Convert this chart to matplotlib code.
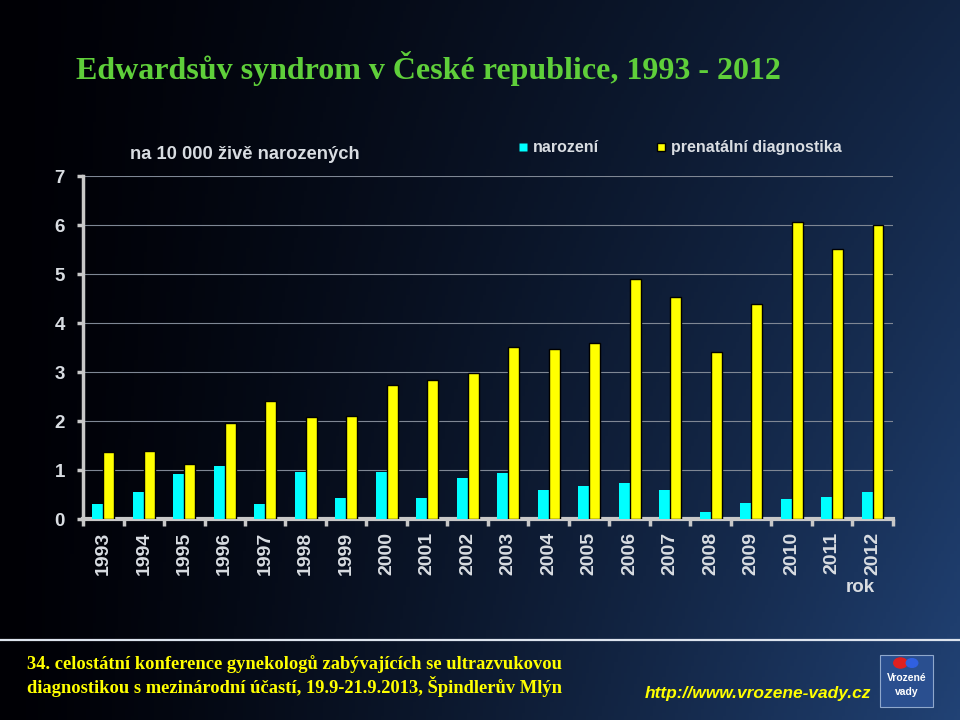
import numpy as np
import matplotlib.pyplot as plt
from matplotlib.lines import Line2D
from matplotlib.patches import Rectangle, Circle

plt.rcParams['font.family'] = ['Liberation Sans', 'DejaVu Sans']

years = ['1993', '1994', '1995', '1996', '1997', '1998', '1999', '2000', '2001', '2002',
         '2003', '2004', '2005', '2006', '2007', '2008', '2009', '2010', '2011', '2012']
narozeni = [0.31, 0.55, 0.92, 1.08, 0.31, 0.96, 0.43, 0.96, 0.43, 0.84,
            0.94, 0.59, 0.67, 0.73, 0.59, 0.14, 0.33, 0.41, 0.45, 0.55]
prenatalni = [1.37, 1.39, 1.12, 1.96, 2.41, 2.08, 2.10, 2.73, 2.84, 2.98,
              3.51, 3.47, 3.59, 4.90, 4.53, 3.41, 4.39, 6.06, 5.51, 6.00]
yticks = [0, 1, 2, 3, 4, 5, 6, 7]

fig = plt.figure(figsize=(9.6, 7.2), dpi=100)

# background gradient (black left -> dark blue right)
bg = fig.add_axes([0, 0, 1, 1])
h, w = 200, 300
xx = np.linspace(0, 1, w)[None, :]
yy = np.linspace(0, 1, h)[:, None]
t = np.clip(xx ** 1.3 * (0.55 + 0.45 * yy), 0, 1)
left = np.array([0.0, 0.0, 0.02])
right = np.array([0.13, 0.26, 0.46])
img = left[None, None, :] + t[:, :, None] * (right - left)[None, None, :]
bg.imshow(img, aspect='auto', extent=[0, 1, 1, 0])
bg.set_xlim(0, 1)
bg.set_ylim(1, 0)
bg.axis('off')

# footer line
bg.plot([0, 1], [640 / 720, 640 / 720], color='#dde4ee', lw=1.6)

# title
fig.text(0.079, 0.905, 'Edwardsův syndrom v České republice, 1993 - 2012',
         family='Liberation Serif', weight='bold', fontsize=23, color='#5fcf3a',
         va='center', ha='left')

ax = fig.add_axes([0.0865, 0.279, 0.8435, 0.4765])
ax.patch.set_alpha(0)
x = np.arange(len(years))
bw = 0.27
ax.bar(x - bw / 2, narozeni, width=bw, color='#00ffff', edgecolor='none', zorder=3)
ax.bar(x + bw / 2, prenatalni, width=bw, color='#ffff00', edgecolor='black', lw=1.0, zorder=3)

ax.set_xlim(-0.5, len(years) - 0.5)
ax.set_ylim(0, 7)
ax.set_yticks(yticks)
ax.set_yticklabels([str(v) for v in yticks])
for v in yticks[1:]:
    ax.axhline(v, color='#7f8794', lw=0.8, zorder=1)

ax.set_xticks(x)
ax.set_xticklabels(years, rotation=90)
ax.set_xticks(np.arange(-0.5, len(years)), minor=True)
ax.tick_params(axis='x', which='major', length=0, pad=9, labelsize=14, labelcolor='#d9dde2')
ax.tick_params(axis='x', which='minor', length=5, width=2.5, color='#c8c8c8', direction='out')
ax.tick_params(axis='y', length=4, width=2.5, color='#c8c8c8', labelsize=13.5,
               labelcolor='#d9dde2', pad=9)
for lab in ax.get_xticklabels() + ax.get_yticklabels():
    lab.set_fontweight('bold')

for s in ['top', 'right']:
    ax.spines[s].set_visible(False)
ax.spines['left'].set_color('#c8c8c8')
ax.spines['left'].set_linewidth(2.5)
ax.spines['bottom'].set_color('#c8c8c8')
ax.spines['bottom'].set_linewidth(3)

ax.text(0.978, -0.2, 'rok', transform=ax.transAxes, fontsize=13.5, weight='bold',
        color='#d9dde2', ha='right', va='center')

# subtitle and legend
fig.text(0.135, 0.785, 'na 10 000 živě narozených', fontsize=13.2, weight='bold',
         color='#d9dde2', ha='left', va='center')
handles = [Line2D([], [], marker='s', ls='none', markersize=6, color='#00ffff',
                  markeredgecolor='none', label='narození'),
           Line2D([], [], marker='s', ls='none', markersize=6, color='#ffff00',
                  markeredgecolor='black', label='prenatální diagnostika')]
leg = fig.legend(handles=handles, loc='center left', bbox_to_anchor=(0.525, 0.795), ncol=2,
                 frameon=False, handlelength=0.6, handletextpad=0.3, columnspacing=3.6,
                 prop={'size': 11.5, 'weight': 'bold'})
for txt in leg.get_texts():
    txt.set_color('#d9dde2')

# footer texts
fig.text(0.028, 0.061, '34. celostátní konference gynekologů zabývajících se ultrazvukovou\n'
         'diagnostikou s mezinárodní účastí, 19.9-21.9.2013, Špindlerův Mlýn',
         family='Liberation Serif', weight='bold', fontsize=13.3, color='#ffff00',
         ha='left', va='center', linespacing=1.2)
fig.text(0.907, 0.037, 'http://www.vrozene-vady.cz', fontsize=12.5, weight='bold',
         style='italic', color='#ffff00', ha='right', va='center')

# logo
bg.add_patch(Rectangle((0.917, 655 / 720), 0.055, 52 / 720, facecolor='#2a4f8f',
                       edgecolor='#8fa8cc', lw=0.8))
bg.add_patch(Circle((0.938, 663 / 720), 0.007, color='#e02020'))
bg.add_patch(Circle((0.950, 663 / 720), 0.006, color='#3060e0'))
bg.text(0.9445, 678 / 720, 'Vrozené', fontsize=7.5, weight='bold', color='white',
        ha='center', va='center')
bg.text(0.9445, 692 / 720, 'vady', fontsize=7.5, weight='bold', color='white',
        ha='center', va='center')

fig.savefig('out.png', dpi=100)
